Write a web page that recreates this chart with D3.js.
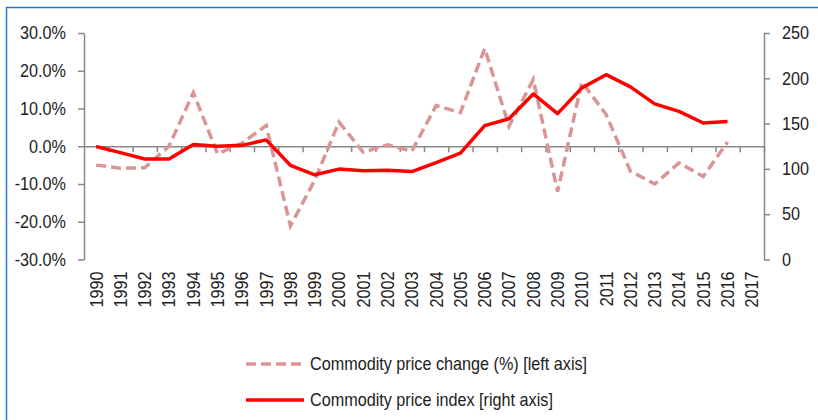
<!DOCTYPE html>
<html>
<head>
<meta charset="utf-8">
<script src="https://cdn.jsdelivr.net/npm/d3@7"></script>
<style>
  body { margin: 0; background: #fff; }
  text { font-family: "Liberation Sans", Arial, sans-serif; fill: #222; }
</style>
</head>
<body>
<div class="chart"></div>
<script>
// tick labels / categories
const years = ["1990","1991","1992","1993","1994","1995","1996","1997","1998","1999",
  "2000","2001","2002","2003","2004","2005","2006","2007","2008","2009",
  "2010","2011","2012","2013","2014","2015","2016","2017"];
// commodity price change, % (left axis), 1990-2016
const priceChange = [-5.0, -5.8, -5.7, 0.0, 14.2, -2.0, 0.8, 5.5, -21.1, -9.0,
  6.4, -1.6, 0.4, -1.3, 10.8, 8.9, 25.9, 5.3, 17.7, -12.0,
  17.0, 8.4, -6.6, -10.0, -4.4, -8.0, 1.1];
// commodity price index (right axis), 1990-2016
const priceIndex = [124.8, 118, 111, 111, 127, 125, 126, 132, 104, 93.5,
  99.8, 98, 98.5, 97, 107, 117.5, 147.7, 155.4, 182.7, 161,
  189.4, 204, 190.5, 171.7, 163.5, 150.7, 152.4];
const leftTicks = [-30, -20, -10, 0, 10, 20, 30];
const rightTicks = [0, 50, 100, 150, 200, 250];
const seriesNames = ["Commodity price change (%) [left axis]", "Commodity price index [right axis]"];

const w = 818, h = 420;
const plotL = 84, plotR = 764, plotT = 33, plotB = 259.5;
const sx = 0.9; // text is narrow in the reference

const svg = d3.select(".chart").append("svg")
  .attr("width", w).attr("height", h);

// frame
svg.append("rect")
  .attr("x", 6.5).attr("y", 7.5).attr("width", 900).attr("height", 500)
  .attr("fill", "none").attr("stroke", "#2b78c8").attr("stroke-width", 1.5);

const x = d3.scaleBand().domain(years).range([plotL, plotR]);
const xEdge = d3.scaleLinear().domain([0, years.length]).range([plotL, plotR]);
const yL = d3.scaleLinear().domain([-30, 30]).range([plotB, plotT]);
const yR = d3.scaleLinear().domain([0, 250]).range([plotB, plotT]);
const cx = d => x(d) + x.bandwidth() / 2;

function styleAxis(g) {
  g.selectAll("path, line").attr("stroke", "#888").attr("stroke-width", 1.5);
  g.selectAll("text").style("font-size", "18px").attr("fill", "#222");
}

// left axis
const gl = svg.append("g").attr("transform", `translate(${plotL},0)`)
  .call(d3.axisLeft(yL).tickValues(leftTicks).tickSize(6).tickSizeOuter(0)
    .tickFormat(d => d.toFixed(1) + "%"))
  .call(styleAxis);
gl.selectAll("text").attr("x", 0).attr("text-anchor", "end")
  .attr("transform", `translate(-18,0) scale(${sx},1)`);

// right axis
const gr = svg.append("g").attr("transform", `translate(${plotR},0)`)
  .call(d3.axisRight(yR).tickValues(rightTicks).tickSize(6).tickSizeOuter(0))
  .call(styleAxis);
gr.selectAll("text").attr("x", 0).attr("text-anchor", "start")
  .attr("transform", `translate(18,0) scale(${sx},1)`);

// zero line with ticks between categories
svg.append("g").attr("transform", `translate(0,${yL(0)})`)
  .call(d3.axisBottom(xEdge).tickValues(d3.range(1, years.length + 1)).tickSize(6)
    .tickSizeOuter(0).tickFormat(""))
  .call(styleAxis);

// year labels at the bottom
const gx = svg.append("g").attr("transform", `translate(0,${plotB})`)
  .call(d3.axisBottom(x).tickSize(0))
  .call(styleAxis);
gx.select(".domain").remove();
gx.selectAll("text").attr("x", 0).attr("y", 0).attr("dy", "0.36em")
  .attr("text-anchor", "end")
  .attr("transform", `translate(0,12) rotate(-90) scale(${sx},1)`);

// lines
const data = priceChange.map((v, i) => ({ year: years[i], change: v, index: priceIndex[i] }));

svg.append("path").datum(data)
  .attr("fill", "none").attr("stroke", "#d99694").attr("stroke-width", 3.5)
  .attr("stroke-dasharray", "10,5")
  .attr("d", d3.line().x(d => cx(d.year)).y(d => yL(d.change)));

svg.append("path").datum(data)
  .attr("fill", "none").attr("stroke", "#ff0000").attr("stroke-width", 3.5)
  .attr("stroke-linejoin", "round")
  .attr("d", d3.line().x(d => cx(d.year)).y(d => yR(d.index)));

// legend
const legend = svg.append("g").selectAll("g")
  .data(seriesNames).enter().append("g")
  .attr("transform", (d, i) => `translate(246,${364 + i * 36})`);
legend.append("line")
  .attr("x1", 0).attr("x2", 58).attr("y1", 0).attr("y2", 0)
  .attr("stroke", (d, i) => i === 0 ? "#d99694" : "#ff0000")
  .attr("stroke-width", 3.5)
  .attr("stroke-dasharray", (d, i) => i === 0 ? "10,5" : null);
legend.append("text")
  .attr("dy", "0.35em")
  .attr("transform", `translate(64,0) scale(${sx},1)`)
  .style("font-size", "18px")
  .text(d => d);
</script>
</body>
</html>
